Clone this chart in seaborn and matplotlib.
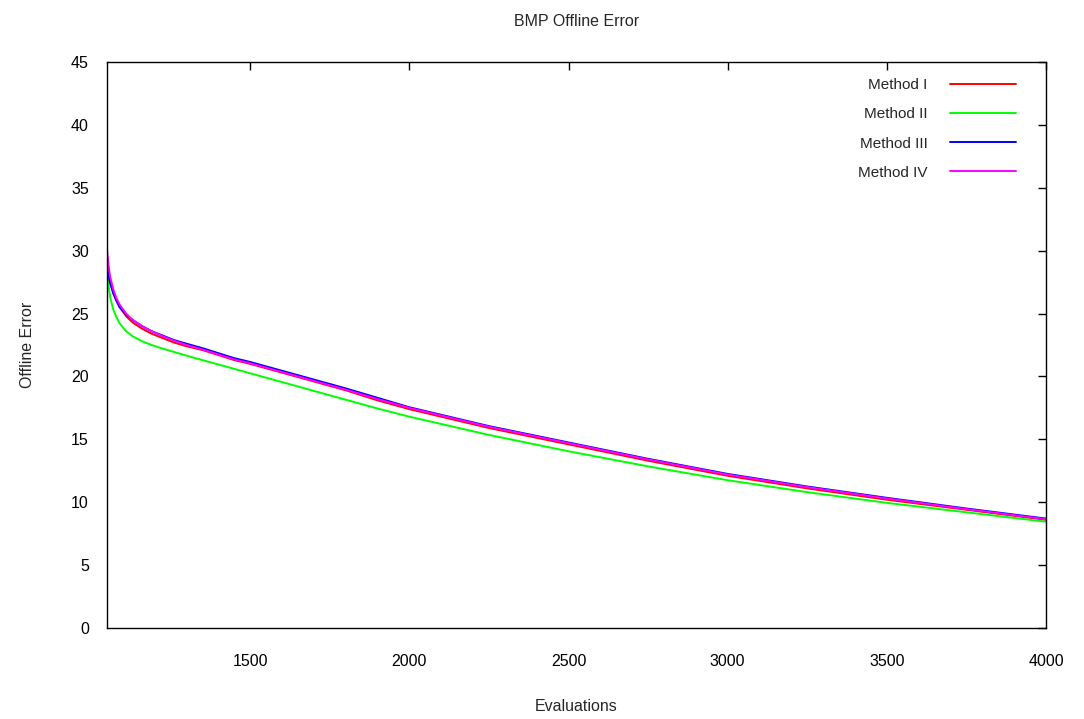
import matplotlib
matplotlib.use("Agg")
import matplotlib.pyplot as plt
import seaborn as sns
import pandas as pd

# Evaluation counts at which the offline error was sampled
evaluations = [1050, 1055, 1060, 1070, 1080, 1090, 1110, 1130, 1160, 1190, 1220, 1260,
               1300, 1350, 1400, 1450, 1500, 1600, 1700, 1800, 1900, 2000, 2250, 2500,
               2750, 3000, 3250, 3500, 3750, 4000]

method_1 = [29.6, 28.4, 27.6, 26.6, 26.0, 25.5, 24.8, 24.3, 23.8, 23.4, 23.1, 22.7,
            22.4, 22.1, 21.7, 21.3, 21.0, 20.3, 19.6, 18.9, 18.1, 17.4, 15.9, 14.6,
            13.3, 12.1, 11.1, 10.2, 9.4, 8.6]
method_2 = [28.3, 27.2, 26.3, 25.3, 24.7, 24.2, 23.6, 23.2, 22.8, 22.5, 22.25, 21.95,
            21.65, 21.3, 20.95, 20.6, 20.25, 19.55, 18.85, 18.15, 17.45, 16.8, 15.35, 14.05,
            12.85, 11.75, 10.8, 9.95, 9.2, 8.45]
method_3 = [28.6, 28.0, 27.4, 26.6, 26.0, 25.5, 24.9, 24.5, 24.0, 23.6, 23.3, 22.9,
            22.6, 22.25, 21.85, 21.45, 21.15, 20.45, 19.75, 19.05, 18.3, 17.55, 16.05, 14.75,
            13.45, 12.25, 11.25, 10.35, 9.5, 8.7]
method_4 = [30.1, 28.8, 27.9, 26.9, 26.2, 25.7, 25.0, 24.5, 24.0, 23.6, 23.25, 22.85,
            22.5, 22.15, 21.75, 21.35, 21.05, 20.35, 19.65, 18.95, 18.2, 17.5, 16.0, 14.7,
            13.4, 12.2, 11.2, 10.3, 9.45, 8.65]

method_names = ["Method I", "Method II", "Method III", "Method IV"]
method_colors = ["#ff0000", "#00ff00", "#0000ff", "#ff00ff"]

y_ticks = [0, 5, 10, 15, 20, 25, 30, 35, 40, 45]
x_ticks = [1500, 2000, 2500, 3000, 3500, 4000]

frames = []
for name, vals in zip(method_names, [method_1, method_2, method_3, method_4]):
    frames.append(pd.DataFrame({"Evaluations": evaluations, "Offline Error": vals, "Method": name}))
df = pd.concat(frames, ignore_index=True)

sns.set_theme(style="white")
plt.rcParams["font.family"] = ["Liberation Sans Narrow", "Liberation Sans", "DejaVu Sans"]

fig = plt.figure(figsize=(10.84, 7.19), dpi=100)
ax = fig.add_axes([107 / 1084, 1 - 628 / 719, 939 / 1084, 566 / 719])

sns.lineplot(data=df, x="Evaluations", y="Offline Error", hue="Method",
             hue_order=method_names, palette=method_colors, linewidth=1.4,
             ax=ax, legend=False, sort=False, estimator=None)

ax.set_xlim(1050, 4000)
ax.set_ylim(0, 45)
ax.set_xticks(x_ticks)
ax.set_yticks(y_ticks)
ax.set_xticklabels([str(t) for t in x_ticks])
ax.set_yticklabels([str(t) for t in y_ticks])

for s in ax.spines.values():
    s.set_color("black")
    s.set_linewidth(1.0)
    s.set_visible(True)

ax.tick_params(axis="both", direction="in", length=6, width=1, colors="black",
               top=True, right=True, labelsize=11.5)
ax.tick_params(axis="x", pad=19)
ax.tick_params(axis="y", pad=13)

ax.set_xlabel("Evaluations", fontsize=11.5, labelpad=21)
ax.set_ylabel("Offline Error", fontsize=11.5, labelpad=26)
ax.set_title("BMP Offline Error", fontsize=11.5, pad=26)

handles = [plt.Line2D([], [], color=c, lw=1.4) for c in method_colors]
ax.legend(handles, method_names, loc="upper right", frameon=False, markerfirst=False,
          bbox_to_anchor=((1016 - 107) / 939, (628 - 78) / 566), borderaxespad=0,
          borderpad=0, fontsize=11, handlelength=4.3, handletextpad=1.5,
          labelspacing=1.0)

fig.savefig("out.png", dpi=100, facecolor="white")
